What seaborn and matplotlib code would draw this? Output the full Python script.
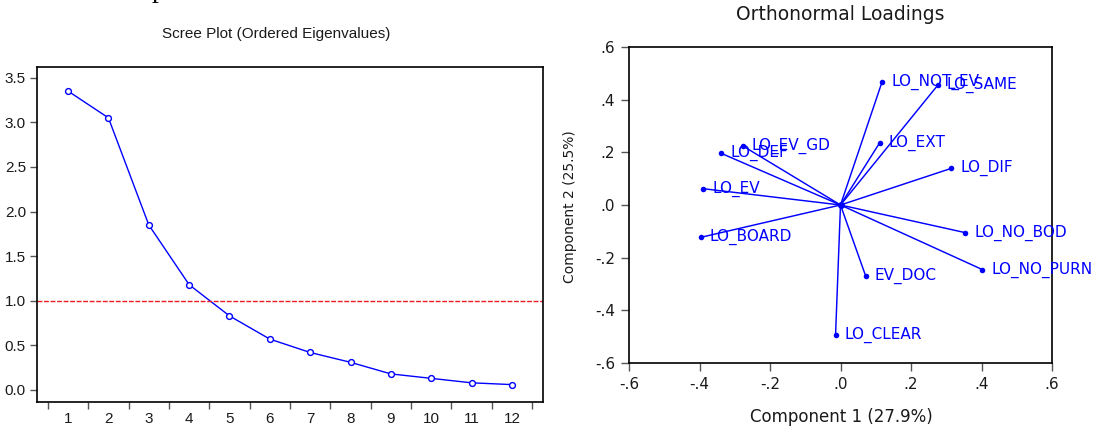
import matplotlib
matplotlib.use("Agg")
import matplotlib.pyplot as plt
import seaborn as sns
import pandas as pd
import numpy as np

# ---- data ----
components = list(range(1, 13))
eigenvalues = [3.35, 3.05, 1.85, 1.18, 0.83, 0.57, 0.42, 0.31, 0.18, 0.13, 0.08, 0.06]

variables = ["LO_EV_GD", "LO_DEF", "LO_EV", "LO_NOT_EV", "LO_SAME", "LO_EXT",
             "LO_DIF", "LO_BOARD", "LO_CLEAR", "LO_NO_BOD", "LO_NO_PURN", "EV_DOC"]
loading1 = [-0.278, -0.338, -0.390, 0.118, 0.276, 0.111, 0.314, -0.397, -0.014, 0.354, 0.402, 0.071]
loading2 = [0.225, 0.196, 0.062, 0.468, 0.455, 0.236, 0.139, -0.123, -0.493, -0.105, -0.245, -0.268]

scree_ticks = [0.0, 0.5, 1.0, 1.5, 2.0, 2.5, 3.0, 3.5]
load_ticks = [-0.6, -0.4, -0.2, 0.0, 0.2, 0.4, 0.6]
load_tick_labels = ["-.6", "-.4", "-.2", ".0", ".2", ".4", ".6"]

sns.set_theme(style="ticks")
plt.rcParams["font.family"] = ["Liberation Sans", "DejaVu Sans"]

fig = plt.figure(figsize=(10.99, 4.29), dpi=100)
ax1 = fig.add_axes([37 / 1099, 1 - 402 / 429, 506 / 1099, 335 / 429])
ax2 = fig.add_axes([629 / 1099, 1 - 363 / 429, 423 / 1099, 316 / 429])

BLUE = "#0000ff"
TXT = "#1a1a1a"

# ---- scree plot ----
df_scree = pd.DataFrame({"comp": components, "eig": eigenvalues})
sns.lineplot(data=df_scree, x="comp", y="eig", ax=ax1, color=BLUE, linewidth=1.0,
             marker="o", markersize=4.2, markerfacecolor="white",
             markeredgecolor=BLUE, markeredgewidth=1.0)
ax1.axhline(1.0, color="#ee1c24", linewidth=1.0, linestyle=(0, (3.5, 1.2)))
ax1.set_xlim(0.23, 12.77)
ax1.set_ylim(-0.135, 3.62)
ax1.set_xticks(components)
ax1.set_xticklabels([str(c) for c in components])
ax1.set_xticks(np.arange(0.5, 13.0, 1.0), minor=True)
ax1.tick_params(axis="x", which="major", length=0, pad=7, labelsize=11, labelcolor=TXT)
ax1.tick_params(axis="x", which="minor", length=5, width=1.0, color="#555555", direction="out")
ax1.set_yticks(scree_ticks)
ax1.set_yticklabels([f"{t:.1f}" for t in scree_ticks])
ax1.tick_params(axis="y", length=5, width=1.0, color="#555555", pad=3, labelsize=11, labelcolor=TXT)
ax1.set_xlabel("")
ax1.set_ylabel("")
for s in ax1.spines.values():
    s.set_visible(True)
    s.set_color("black")
    s.set_linewidth(1.2)
fig.text(276 / 1099, 1 - 34 / 429, "Scree Plot (Ordered Eigenvalues)", ha="center",
         va="center", fontsize=11, color=TXT)

# partial text cut off at the top of the page
fig.text(152 / 1099, 1 + 3 / 429, "p", ha="left", va="baseline", fontsize=20,
         family="Liberation Serif", color="black")

# ---- loadings plot ----
df_load = pd.DataFrame({"var": variables, "c1": loading1, "c2": loading2})
for x, y in zip(df_load["c1"], df_load["c2"]):
    ax2.plot([0, x], [0, y], color=BLUE, linewidth=1.05, zorder=2)
sns.scatterplot(data=df_load, x="c1", y="c2", ax=ax2, color=BLUE, s=16,
                edgecolor=BLUE, linewidth=0, zorder=3)
ax2.scatter([0], [0], color=BLUE, s=16, zorder=3)
for name, x, y in zip(df_load["var"], df_load["c1"], df_load["c2"]):
    ax2.annotate(name, (x, y), xytext=(6.5, 0), textcoords="offset points",
                 ha="left", va="center", fontsize=11, color=BLUE, family="DejaVu Sans")
ax2.set_xlim(-0.6, 0.6)
ax2.set_ylim(-0.6, 0.6)
ax2.set_xticks(load_ticks)
ax2.set_xticklabels(load_tick_labels, family="DejaVu Sans")
ax2.set_yticks(load_ticks)
ax2.set_yticklabels(load_tick_labels, family="DejaVu Sans")
ax2.tick_params(axis="both", length=6, width=1.0, color="#555555", labelsize=11,
                labelcolor=TXT, pad=4)
ax2.set_xlabel("")
ax2.set_ylabel("")
for s in ax2.spines.values():
    s.set_visible(True)
    s.set_color("black")
    s.set_linewidth(1.2)
fig.text(840 / 1099, 1 - 15 / 429, "Orthonormal Loadings", ha="center", va="center",
         fontsize=13.5, color=TXT, family="DejaVu Sans")
fig.text(841 / 1099, 1 - 417 / 429, "Component 1 (27.9%)", ha="center", va="center",
         fontsize=12, color=TXT, family="DejaVu Sans")
fig.text(570 / 1099, 1 - 207 / 429, "Component 2 (25.5%)", ha="center", va="center",
         rotation=90, fontsize=10, color=TXT, family="DejaVu Sans")

fig.savefig("out.png", dpi=100, facecolor="white")
